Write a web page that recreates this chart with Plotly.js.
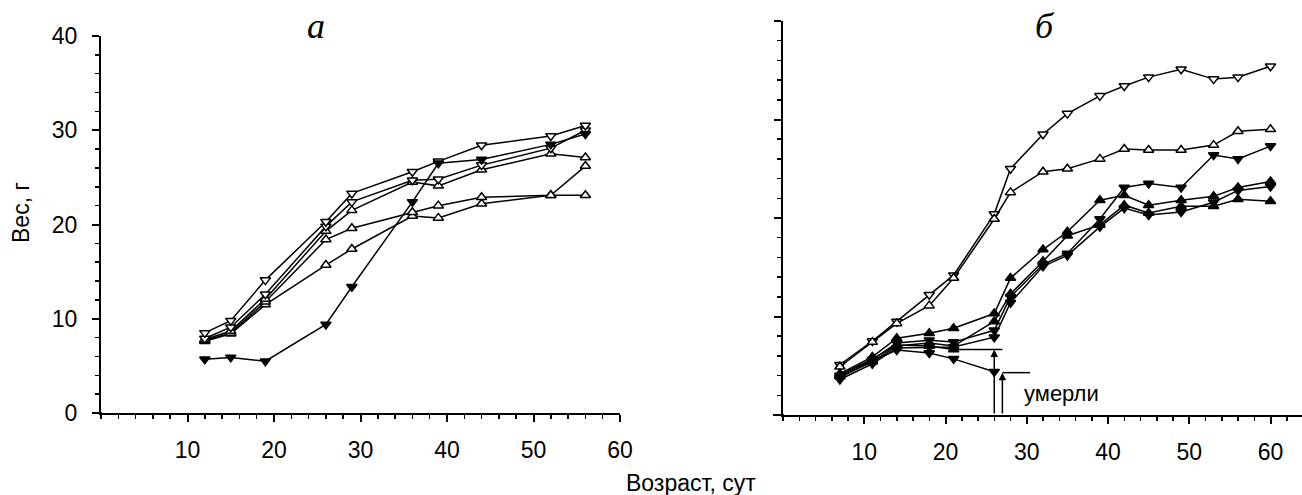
<!DOCTYPE html>
<html>
<head>
<meta charset="utf-8">
<script src="https://cdn.plot.ly/plotly-3.0.1.min.js"></script>
<style>html,body{margin:0;padding:0;background:#fff;}#chart{width:1302px;height:495px;}</style>
</head>
<body>
<div id="chart"></div>
<script>
// ---- Panel "а" data ----
const ageA = [12, 15, 19, 26, 29, 36, 39, 44, 52, 56];
const a1 = [8.5, 9.8, 14.1, 20.3, 23.3, 25.6, 26.7, 28.4, 29.4, 30.5];   // open ▽
const a2 = [5.7, 5.9, 5.5, 9.4, 13.4, 22.4, 26.5, 26.9, 28.5, 29.6];     // filled ▼
const a3 = [7.9, 9.1, 12.6, 19.8, 22.4, 24.7, 24.8, 26.3, 28.1, 30.0];   // open ▽
const a4 = [7.8, 8.7, 12.1, 19.3, 21.5, 24.5, 24.1, 25.8, 27.5, 27.1];   // open △
const a5 = [7.7, 8.5, 11.8, 18.4, 19.6, 21.3, 22.0, 22.9, 23.1, 26.2];   // open △
const a6 = [7.6, 8.4, 11.5, 15.7, 17.4, 20.9, 20.7, 22.2, 23.1, 23.1];   // open △

// ---- Panel "б" data ----
const ageB = [7, 11, 14, 18, 21, 26, 28, 32, 35, 39, 42, 45, 49, 53, 56, 60];
const b1 = [5.1, 7.5, 9.5, 12.2, 14.2, 20.4, 25.0, 28.5, 30.6, 32.4, 33.4, 34.3, 35.1, 34.1, 34.3, 35.4]; // open ▽
const b2 = [4.9, 7.4, 9.3, 11.1, 13.9, 19.9, 22.6, 24.7, 25.0, 26.0, 27.0, 26.9, 26.9, 27.4, 28.8, 29.0]; // open △
const b3 = [4.0, 5.6, 7.3, 7.6, 7.4, 8.6, 12.0, 15.3, 16.4, 19.9, 23.1, 23.5, 23.1, 26.4, 26.0, 27.3];   // filled ▼
const b4 = [4.2, 5.9, 7.8, 8.3, 8.8, 10.3, 13.9, 16.8, 18.6, 21.8, 22.3, 21.3, 21.8, 22.2, 23.1, 23.7];   // filled ▲
const b5 = [3.9, 5.4, 7.0, 7.3, 7.0, 9.5, 12.3, 15.6, 18.2, 19.3, 21.3, 20.5, 21.2, 21.2, 21.9, 21.7];    // filled ▲
const b6 = [3.6, 5.2, 6.8, 6.9, 6.9, 7.9, 11.4, 15.1, 16.2, 19.1, 21.0, 20.3, 20.6, 21.6, 22.8, 23.2];    // filled ▼
const ageB7 = [7, 11, 14, 18, 21, 26];
const b7 = [3.8, 5.5, 6.6, 6.3, 5.7, 4.4];   // filled ▼ (died)
const ageB8 = [7, 11, 14, 18, 21];
const b8 = [4.1, 5.7, 7.1, 7.0, 6.65];       // filled ▲ (died)

const xTicks = [10, 20, 30, 40, 50, 60];
const yTicksA = [0, 10, 20, 30, 40];

const FONT = 'Liberation Sans, Arial, sans-serif';

function tr(x, y, sym, filled, xa, ya) {
  return {
    x: x, y: y, xaxis: xa, yaxis: ya, type: 'scatter', mode: 'lines+markers',
    line: {color: '#000', width: 1.5},
    marker: {symbol: sym, size: 9, color: filled ? '#000' : '#fff',
             line: {color: '#000', width: 1.5}},
    showlegend: false, hoverinfo: 'x+y', cliponaxis: false
  };
}

const data = [
  tr(ageA, a6, 'triangle-up', false, 'x', 'y'),
  tr(ageA, a5, 'triangle-up', false, 'x', 'y'),
  tr(ageA, a4, 'triangle-up', false, 'x', 'y'),
  tr(ageA, a3, 'triangle-down', false, 'x', 'y'),
  tr(ageA, a1, 'triangle-down', false, 'x', 'y'),
  tr(ageA, a2, 'triangle-down', true, 'x', 'y'),
  tr(ageB, b1, 'triangle-down', false, 'x2', 'y2'),
  tr(ageB, b2, 'triangle-up', false, 'x2', 'y2'),
  tr(ageB, b3, 'triangle-down', true, 'x2', 'y2'),
  tr(ageB, b4, 'triangle-up', true, 'x2', 'y2'),
  tr(ageB, b5, 'triangle-up', true, 'x2', 'y2'),
  tr(ageB, b6, 'triangle-down', true, 'x2', 'y2'),
  tr(ageB7, b7, 'triangle-down', true, 'x2', 'y2'),
  tr(ageB8, b8, 'triangle-up', true, 'x2', 'y2')
];

function xax(domain, range) {
  return {
    domain: domain, range: range, showgrid: false, zeroline: false,
    showline: true, linecolor: '#000', linewidth: 2,
    tickmode: 'array', tickvals: xTicks, ticks: 'outside', ticklen: 7, tickwidth: 2,
    tickcolor: '#000', ticklabelstandoff: 8,
    minor: {tickmode: 'linear', tick0: 0, dtick: 2, ticks: 'outside', ticklen: 4, tickwidth: 1.5, tickcolor: '#000'},
    tickfont: {family: FONT, size: 23, color: '#000'}, fixedrange: true
  };
}
function yax(domain, anchor, labels) {
  return {
    domain: domain, range: [0, 40], anchor: anchor, showgrid: false, zeroline: false,
    showline: true, linecolor: '#000', linewidth: 2,
    tickmode: 'array', tickvals: yTicksA, ticks: 'outside', ticklen: 7, tickwidth: 2,
    tickcolor: '#000', showticklabels: labels, ticklabelstandoff: 10,
    minor: {tickmode: 'linear', tick0: 0, dtick: 2, ticks: 'outside', ticklen: 4, tickwidth: 1.5, tickcolor: '#000'},
    tickfont: {family: FONT, size: 23, color: '#000'}, fixedrange: true
  };
}

const xa1 = xax([101/1302, 620/1302], [0, 60]); xa1.anchor = 'y';
const xa2 = xax([783/1302, 1], [0, (1302-783)/8.125]); xa2.anchor = 'y2';

const layout = {
  width: 1302, height: 495,
  margin: {l: 0, r: 0, t: 0, b: 0},
  paper_bgcolor: '#fff', plot_bgcolor: 'rgba(0,0,0,0)',
  showlegend: false,
  xaxis: xa1,
  yaxis: yax([(495-413)/495, (495-36)/495], 'x', true),
  xaxis2: xa2,
  yaxis2: yax([(495-415)/495, (495-21)/495], 'x2', false),
  shapes: [
    {type: 'line', xref: 'paper', yref: 'paper', x0: 94/1302, x1: 102/1302, y0: (495-413)/495, y1: (495-413)/495, line: {color: '#000', width: 2}},
    {type: 'line', xref: 'paper', yref: 'paper', x0: 773/1302, x1: 784/1302, y0: (495-415)/495, y1: (495-415)/495, line: {color: '#000', width: 2}},
    {type: 'line', xref: 'x2', yref: 'y2', x0: 21, x1: 27, y0: 6.65, y1: 6.65, line: {color: '#000', width: 1.5}},
    {type: 'line', xref: 'x2', yref: 'y2', x0: 27, x1: 30.4, y0: 4.3, y1: 4.3, line: {color: '#000', width: 1.5}}
  ],
  annotations: [
    {xref: 'x2', yref: 'y2', x: 26, y: 6.65, axref: 'x2', ayref: 'y2', ax: 26, ay: 0,
     showarrow: true, arrowhead: 2, arrowsize: 1, arrowwidth: 1.5, arrowcolor: '#000', text: ''},
    {xref: 'x2', yref: 'y2', x: 27, y: 4.3, axref: 'x2', ayref: 'y2', ax: 27, ay: 0,
     showarrow: true, arrowhead: 2, arrowsize: 1, arrowwidth: 1.5, arrowcolor: '#000', text: ''},
    {xref: 'x2', yref: 'y2', x: 29.4, y: 2.2, xanchor: 'left', yanchor: 'middle', showarrow: false,
     text: 'умерли', font: {family: FONT, size: 22, color: '#000'}},
    {xref: 'paper', yref: 'paper', x: 316/1302, y: (495-26)/495, xanchor: 'center', yanchor: 'middle', showarrow: false,
     text: '<i>а</i>', font: {family: 'Liberation Serif, Times New Roman, serif', size: 36, color: '#000'}},
    {xref: 'paper', yref: 'paper', x: 1045/1302, y: (495-26)/495, xanchor: 'center', yanchor: 'middle', showarrow: false,
     text: '<i>б</i>', font: {family: 'Liberation Serif, Times New Roman, serif', size: 36, color: '#000'}},
    {xref: 'paper', yref: 'paper', x: 691/1302, y: (495-483)/495, xanchor: 'center', yanchor: 'middle', showarrow: false,
     text: 'Возраст, сут', font: {family: FONT, size: 23, color: '#000'}},
    {xref: 'paper', yref: 'paper', x: 21/1302, y: (495-213)/495, xanchor: 'center', yanchor: 'middle', showarrow: false,
     textangle: -90, text: 'Вес, г', font: {family: FONT, size: 23, color: '#000'}}
  ]
};

Plotly.newPlot('chart', data, layout, {displayModeBar: false, staticPlot: true});
</script>
</body>
</html>
